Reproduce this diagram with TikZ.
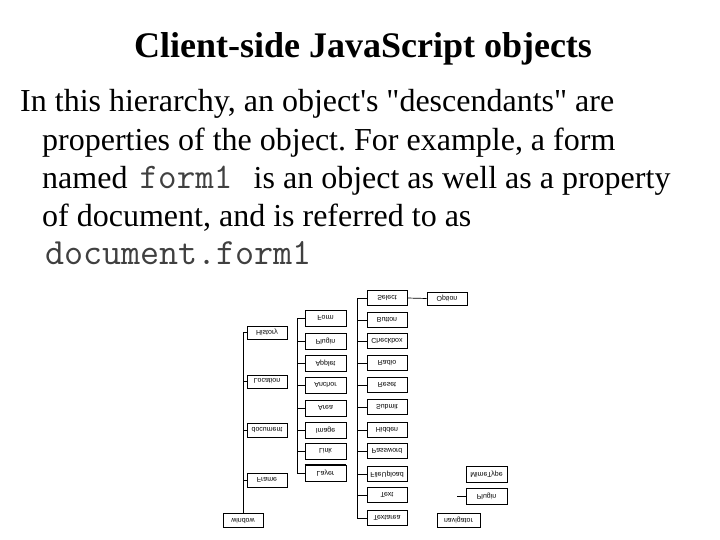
\documentclass[tikz,border=0pt]{standalone}
\usepackage{fontspec}
\usepackage{graphicx}
\setmainfont{Liberation Serif}[Ligatures=TeXOff]
\newfontfamily\diagfont{Liberation Sans}
\newcommand{\flipt}[1]{\scalebox{1}[-1]{#1}}
\frenchspacing
\tikzset{
  objbox/.style={draw, line width=0.7pt, inner sep=0pt, minimum width=40pt, minimum height=15pt,
    font=\diagfont\fontsize{7}{8}\selectfont},
  wire/.style={line width=0.7pt},
  bodytext/.style={anchor=base west, inner sep=0pt, font=\fontsize{32}{36}\selectfont},
  monotext/.style={anchor=base west, inner sep=0pt, text=black!75}
}
\begin{document}
\begin{tikzpicture}[x=1pt,y=-1pt]
\useasboundingbox (0,0) rectangle (720,540);
% title and text
\node[inner sep=0pt, font=\bfseries\fontsize{36}{40}\selectfont] (title) at (363,49) {Client-side JavaScript objects};
\node[bodytext] (l1) at (20,112) {In this hierarchy, an object's "descendants" are};
\node[bodytext] (l2) at (42,151) {properties of the object. For example, a form};
\node[bodytext] (l3a) at (42,189) {named};
\node[monotext, font=\ttfamily\fontsize{36}{38}\selectfont] (l3b) at (139.5,189) {form1};
\node[bodytext] (l3c) at (253.5,189) {is an object as well as a property};
\node[bodytext] (l4) at (42,226) {of document, and is referred to as};
\node[monotext, font=\ttfamily\fontsize{37}{40}\selectfont] (l5) at (45,264) {document.form1};
% column 1
\node[objbox, minimum height=13pt] (h1) at (267,332.5) {\flipt{History}};
\node[objbox, minimum height=13pt] (h2) at (267,381.5) {\flipt{Location}};
\node[objbox, minimum height=14pt] (h3) at (267,430) {\flipt{document}};
\node[objbox, minimum height=14pt] (h4) at (267,480) {\flipt{Frame}};
\node[objbox, minimum height=14pt] (win) at (243,520.5) {\flipt{window}};
\draw[wire] (win.north) -- (win.north |- h1.west) -- (h1.west);
\foreach \n in {h2,h3,h4} \draw[wire] (\n.west) -- (\n.west -| win.north);
% column 2
\coordinate (t2) at (297,0);
\foreach \n/\y/\t in {d1/318/Form,d2/341/Plugin,d3/363/Applet,d4/385/Anchor,d5/408/Area,d6/430/Image,d7/451/Link,d8/473/Layer}
  \node[objbox, minimum width=41pt, minimum height=16pt] (\n) at (325.5,\y) {\flipt{\t}};
\draw[wire] (d1.west -| t2) -- (d8.west -| t2);
\foreach \n in {d1,d2,d3,d4,d5,d6,d7,d8} \draw[wire] (\n.west) -- (\n.west -| t2);
\draw[line width=1.5pt] (d8.north west) -- (d8.north east);
% column 3
\coordinate (t3) at (357,0);
\foreach \n/\y/\t in {e1/298/Select,e2/320/Button,e3/341/Checkbox,e4/363/Radio,e5/385/Reset,e6/407/Submit,e7/430/Hidden,e8/451/Password,e9/474/FileUpload,e10/495/Text,e11/518/Textarea}
  \node[objbox] (\n) at (387,\y) {\flipt{\t}};
\draw[wire] (e1.west -| t3) -- (e11.west -| t3);
\foreach \n in {e1,e2,e3,e4,e5,e6,e7,e8,e9,e10,e11} \draw[wire] (\n.west) -- (\n.west -| t3);
\node[objbox, minimum height=13pt] (opt) at (447,298.5) {\flipt{Option}};
\draw[wire] (e1.east) -- (opt.west);
% navigator group
\node[objbox, minimum width=41pt, minimum height=16pt] (mime) at (486.5,474) {\flipt{MimeType}};
\node[objbox, minimum width=41pt, minimum height=16pt] (plug) at (486.5,496.5) {\flipt{Plugin}};
\coordinate (ps) at (457,496.5);
\draw[wire] (ps) -- (plug.west);
\node[objbox, minimum width=43pt, minimum height=14pt] (nav) at (458.5,520) {\flipt{navigator}};
\end{tikzpicture}
\end{document}
